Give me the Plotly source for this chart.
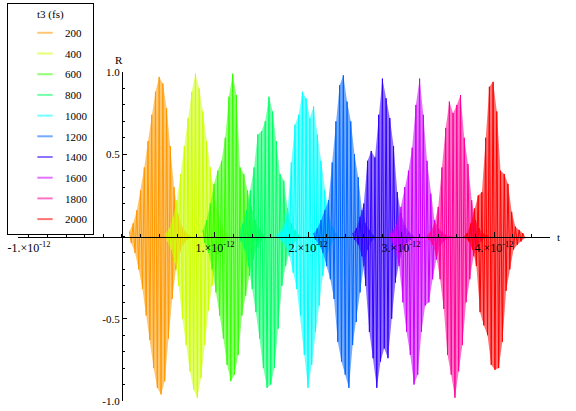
import numpy as np
import plotly.graph_objects as go

# ---------------- data ----------------
t3_fs = [200, 400, 600, 800, 1000, 1200, 1400, 1600, 1800, 2000]
hue_colors = ["#FF9900", "#CCFF00", "#33FF00", "#00FF66", "#00FFFF",
              "#0066FF", "#3300FF", "#CC00FF", "#FF0099", "#FF0000"]
centers_ps = [0.40, 0.79, 1.19, 1.58, 1.98, 2.38, 2.80, 3.20, 3.60, 3.99]
stroke_offsets_ps = [-0.32, -0.28, -0.24, -0.20, -0.16, -0.12, -0.08, -0.04, 0.00,
                     0.04, 0.08, 0.12, 0.16, 0.20, 0.24, 0.28, 0.32]
trough_shift_ps = 0.02

upper_200 = [0.03, 0.08, 0.16, 0.28, 0.42, 0.58, 0.74, 0.88, 0.97, 0.93, 0.78, 0.55, 0.30, 0.14, 0.07, 0.03, 0.01]
lower_200 = [-0.04, -0.10, -0.20, -0.32, -0.48, -0.63, -0.80, -0.92, -0.96, -0.88, -0.62, -0.38, -0.20, -0.10, -0.05, -0.02, -0.01]
upper_400 = [0.02, 0.05, 0.12, 0.22, 0.38, 0.55, 0.72, 0.88, 0.99, 0.90, 0.76, 0.58, 0.42, 0.27, 0.15, 0.07, 0.03]
lower_400 = [-0.03, -0.08, -0.16, -0.30, -0.50, -0.66, -0.82, -0.93, -0.98, -0.86, -0.66, -0.45, -0.30, -0.17, -0.08, -0.04, -0.01]
upper_600 = [0.04, 0.10, 0.20, 0.32, 0.40, 0.46, 0.60, 0.85, 0.99, 0.86, 0.42, 0.38, 0.28, 0.18, 0.10, 0.05, 0.02]
lower_600 = [-0.04, -0.10, -0.20, -0.34, -0.48, -0.62, -0.78, -0.88, -0.84, -0.72, -0.48, -0.36, -0.24, -0.14, -0.07, -0.03, -0.01]
upper_800 = [0.03, 0.08, 0.16, 0.28, 0.42, 0.62, 0.64, 0.70, 0.85, 0.76, 0.58, 0.38, 0.34, 0.17, 0.08, 0.04, 0.01]
lower_800 = [-0.03, -0.08, -0.18, -0.32, -0.46, -0.62, -0.80, -0.92, -0.90, -0.80, -0.56, -0.30, -0.18, -0.10, -0.05, -0.02, -0.01]
upper_1000 = [0.01, 0.03, 0.07, 0.16, 0.45, 0.68, 0.74, 0.88, 0.84, 0.72, 0.79, 0.62, 0.46, 0.28, 0.14, 0.06, 0.02]
lower_1000 = [-0.01, -0.03, -0.06, -0.12, -0.22, -0.32, -0.48, -0.72, -0.92, -0.78, -0.58, -0.42, -0.24, -0.12, -0.06, -0.02, -0.01]
upper_1200 = [0.02, 0.05, 0.10, 0.16, 0.22, 0.45, 0.70, 0.92, 0.98, 0.82, 0.70, 0.50, 0.36, 0.16, 0.08, 0.04, 0.01]
lower_1200 = [-0.02, -0.05, -0.10, -0.18, -0.26, -0.38, -0.64, -0.76, -0.84, -0.92, -0.66, -0.52, -0.34, -0.18, -0.08, -0.03, -0.01]
upper_1400 = [0.02, 0.05, 0.12, 0.20, 0.46, 0.52, 0.48, 0.74, 0.96, 0.84, 0.72, 0.55, 0.27, 0.14, 0.07, 0.03, 0.01]
lower_1400 = [-0.02, -0.05, -0.12, -0.30, -0.58, -0.74, -0.92, -0.76, -0.68, -0.74, -0.50, -0.28, -0.16, -0.08, -0.04, -0.02, -0.01]
upper_1600 = [0.02, 0.04, 0.08, 0.18, 0.30, 0.40, 0.54, 0.80, 0.96, 0.74, 0.46, 0.26, 0.10, 0.05, 0.03, 0.01, 0.00]
lower_1600 = [-0.03, -0.08, -0.18, -0.40, -0.58, -0.72, -0.90, -0.84, -0.58, -0.42, -0.40, -0.26, -0.14, -0.06, -0.03, -0.01, 0.00]
upper_1800 = [0.01, 0.03, 0.08, 0.18, 0.42, 0.66, 0.82, 0.75, 0.80, 0.86, 0.60, 0.44, 0.22, 0.10, 0.05, 0.02, 0.01]
lower_1800 = [-0.02, -0.05, -0.12, -0.26, -0.44, -0.72, -0.84, -0.98, -0.82, -0.66, -0.40, -0.26, -0.12, -0.06, -0.03, -0.01, 0.00]
upper_2000 = [0.00, 0.02, 0.08, 0.17, 0.25, 0.27, 0.60, 0.91, 0.94, 0.76, 0.40, 0.38, 0.32, 0.15, 0.06, 0.04, 0.02]
lower_2000 = [-0.01, -0.03, -0.08, -0.18, -0.46, -0.54, -0.60, -0.78, -0.81, -0.80, -0.64, -0.33, -0.20, -0.08, -0.05, -0.03, -0.01]

uppers = [upper_200, upper_400, upper_600, upper_800, upper_1000,
          upper_1200, upper_1400, upper_1600, upper_1800, upper_2000]
lowers = [lower_200, lower_400, lower_600, lower_800, lower_1000,
          lower_1200, lower_1400, lower_1600, lower_1800, lower_2000]

x_tick_vals = [-1e-12, 1e-12, 2e-12, 3e-12, 4e-12]
x_tick_text = ["-1.\u00d710<sup>-12</sup>", "1.\u00d710<sup>-12</sup>", "2.\u00d710<sup>-12</sup>",
               "3.\u00d710<sup>-12</sup>", "4.\u00d710<sup>-12</sup>"]
y_tick_vals = [-1.0, -0.5, 0.5, 1.0]
y_tick_text = ["-1.0", "-0.5", "0.5", "1.0"]

# ---------------- figure ----------------
PS = 1e-12
X_MIN, X_MAX = -1.118e-12, 4.602e-12
Y_MIN, Y_MAX = -1.0, 1.0
FONT = "Liberation Serif"


def rgba(hexc, a):
    h = hexc.lstrip("#")
    return "rgba(%d,%d,%d,%.2f)" % (int(h[0:2], 16), int(h[2:4], 16), int(h[4:6], 16), a)


fig = go.Figure()

for t3, col, c, up, lo in zip(t3_fs, hue_colors, centers_ps, uppers, lowers):
    tops_x = [(c + o) * PS for o in stroke_offsets_ps]
    bots_x = [(c + o + trough_shift_ps) * PS for o in stroke_offsets_ps]
    # light envelope tint (antialiased look of the dense oscillation)
    fig.add_trace(go.Scatter(
        x=tops_x + bots_x[::-1], y=up + lo[::-1],
        mode="lines", fill="toself", fillcolor=rgba(col, 0.55),
        line=dict(width=0), hoverinfo="skip", showlegend=False))
    # oscillation strokes
    zx, zy = [], []
    for xt, yt, xb, yb in zip(tops_x, up, bots_x, lo):
        zx += [xt, xb]
        zy += [yt, yb]
    fig.add_trace(go.Scatter(
        x=zx, y=zy, mode="lines", line=dict(color=col, width=1),
        showlegend=False, hoverinfo="skip"))

# legend entries
for t3, col in zip(t3_fs, hue_colors):
    fig.add_trace(go.Scatter(
        x=[None], y=[None], mode="markers", name=str(t3),
        legendgroup=str(t3),
        marker=dict(symbol="line-ew", size=11, line=dict(color=rgba(col, 0.55), width=2))))

y0_pos = (0 - X_MIN) / (X_MAX - X_MIN)
x0_pos = (0 - Y_MIN) / (Y_MAX - Y_MIN)

fig.update_layout(
    width=576, height=411,
    margin=dict(l=18, r=26, t=72, b=10, autoexpand=False),
    paper_bgcolor="white", plot_bgcolor="white",
    font=dict(family=FONT, size=11, color="black"),
    showlegend=True,
    legend=dict(
        x=(7 - 18) / 532, y=1 + (72 - 3) / 329, xanchor="left", yanchor="top",
        bgcolor="white", bordercolor="black", borderwidth=1,
        font=dict(family=FONT, size=11, color="black"),
        title=dict(text="t3 (fs)", side="top center", font=dict(family=FONT, size=11)),
        itemwidth=30, indentation=17, tracegroupgap=1.7, maxheight=400,
        entrywidth=68, entrywidthmode="pixels",
    ),
    xaxis=dict(
        range=[X_MIN, X_MAX], anchor="free", position=x0_pos,
        showgrid=False, zeroline=False,
        showline=True, linecolor="black", linewidth=1,
        tickmode="array", tickvals=x_tick_vals, ticktext=x_tick_text,
        ticks="inside", ticklen=5, tickcolor="black", tickwidth=1,
        tickfont=dict(family=FONT, size=12),
        minor=dict(tickmode="array",
                   tickvals=list(np.round(np.arange(-1.0, 4.61, 0.2), 2) * PS),
                   ticks="inside", ticklen=3, tickcolor="black", showgrid=False),
    ),
    yaxis=dict(
        range=[Y_MIN, Y_MAX], anchor="free", position=y0_pos,
        showgrid=False, zeroline=False,
        showline=True, linecolor="black", linewidth=1,
        tickmode="array", tickvals=y_tick_vals, ticktext=y_tick_text,
        ticks="inside", ticklen=4, tickcolor="black", tickwidth=1,
        tickfont=dict(family=FONT, size=11),
        minor=dict(tickmode="array",
                   tickvals=list(np.round(np.arange(-1.0, 1.01, 0.1), 2)),
                   ticks="inside", ticklen=2, tickcolor="black", showgrid=False),
    ),
    annotations=[
        dict(text="R", x=0, y=1, xref="x", yref="paper", xanchor="center", yanchor="bottom",
             xshift=-3, yshift=4, showarrow=False, font=dict(family=FONT, size=11)),
        dict(text="t", x=1, y=0, xref="paper", yref="y", xanchor="left", yanchor="middle",
             xshift=5, showarrow=False, font=dict(family=FONT, size=11)),
    ],
)

fig.write_html("out.html",
               config={"displayModeBar": False},
               post_script="document.body.style.margin='0';document.body.style.overflow='hidden';")
